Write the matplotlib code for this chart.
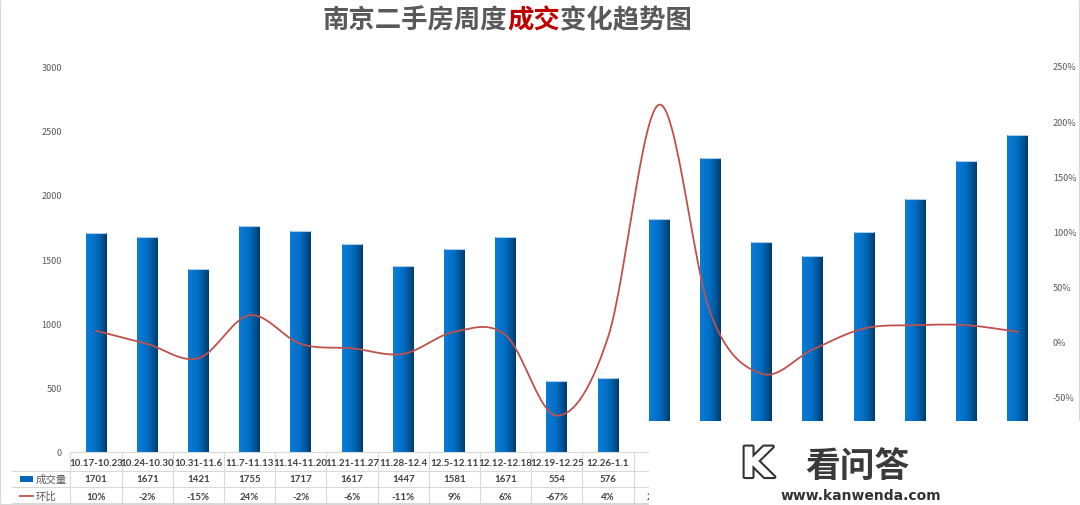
import numpy as np
import matplotlib
matplotlib.use('Agg')
import matplotlib.pyplot as plt
from matplotlib.colors import LinearSegmentedColormap
from matplotlib.offsetbox import TextArea, HPacker, AnnotationBbox
from matplotlib.patches import Rectangle
from matplotlib.lines import Line2D
import matplotlib.patheffects as pe

plt.rcParams['font.family'] = ['Noto Sans CJK SC', 'DejaVu Sans']

# 数据
weeks = ['10.17-10.23', '10.24-10.30', '10.31-11.6', '11.7-11.13', '11.14-11.20',
         '11.21-11.27', '11.28-12.4', '12.5-12.11', '12.12-12.18', '12.19-12.25',
         '12.26-1.1', '1.2-1.8', '1.9-1.15', '1.16-1.22', '1.23-1.29', '1.30-2.5',
         '2.6-2.12', '2.13-2.19', '2.20-2.26']
volume = [1701, 1671, 1421, 1755, 1717, 1617, 1447, 1581, 1671, 554, 576,
          1813, 2285, 1630, 1523, 1712, 1964, 2259, 2466]
ratio = [10, -2, -15, 24, -2, -6, -11, 9, 6, -67, 4,
         215, 26, -29, -7, 12, 15, 15, 9]
left_ticks = [0, 500, 1000, 1500, 2000, 2500, 3000]
right_ticks = [-100, -50, 0, 50, 100, 150, 200, 250]
n_shown = 11  # 表格中未被水印遮住的列数

GRAY = '#595959'
W, H = 1080, 506


def smooth(xs, ys, n=30):
    # 类似 Excel 平滑线: 每段用三次贝塞尔曲线连接
    P = np.column_stack([np.asarray(xs, float), np.asarray(ys, float)])
    out = []
    for i in range(len(P) - 1):
        p0, p1, p2 = P[max(i - 1, 0)], P[i], P[i + 1]
        p3 = P[min(i + 2, len(P) - 1)]
        c1 = p1 + (p2 - p0) / 6
        c2 = p2 - (p3 - p1) / 6
        t = np.linspace(0, 1, n)[:, None]
        seg = (1 - t) ** 3 * p1 + 3 * (1 - t) ** 2 * t * c1 + 3 * (1 - t) * t ** 2 * c2 + t ** 3 * p2
        out.append(seg if i == 0 else seg[1:])
    s = np.vstack(out)
    return s[:, 0], s[:, 1]


fig = plt.figure(figsize=(W / 100, H / 100), dpi=100)
ax = fig.add_axes([70.4 / W, 1 - 453 / H, (1043.2 - 70.4) / W, 386 / H])
x = np.arange(len(volume))

# 柱子 (渐变填充)
bw = 0.41
cmap = LinearSegmentedColormap.from_list(
    'bar', [(0, '#0b7bd5'), (0.45, '#0070c6'), (0.75, '#00569a'), (1, '#003a6c')])
grad = np.linspace(0, 1, 64).reshape(1, -1)
bars = ax.bar(x, volume, width=bw, color='none', zorder=2)
for b in bars:
    im = ax.imshow(grad, cmap=cmap, aspect='auto', interpolation='bicubic', zorder=2,
                   extent=[b.get_x(), b.get_x() + b.get_width(), 0, b.get_height()])
    im.set_clip_path(b)
ax.hlines(volume, x - bw / 2, x + bw / 2, color='#a9cdee', lw=0.8, zorder=3)

ax.set_xlim(-0.5, len(volume) - 0.5)
ax.set_ylim(0, 3000)
ax.set_aspect('auto')
ax.set_xticks([])
ax.set_yticks(left_ticks)
ax.tick_params(axis='y', length=0, labelsize=6.5, labelcolor=GRAY, pad=6)
for s in ax.spines.values():
    s.set_visible(False)

# 环比折线
ax2 = ax.twinx()
sx, sy = smooth(x, ratio)
ax2.plot(sx, sy, color='#c0504d', lw=1.3, zorder=3)
ax2.set_ylim(-100, 250)
ax2.set_yticks(right_ticks)
ax2.set_yticklabels([f'{v}%' for v in right_ticks])
ax2.tick_params(axis='y', length=0, labelsize=6.5, labelcolor=GRAY, pad=7)
for s in ax2.spines.values():
    s.set_visible(False)

# 数据表
T = ax.get_xaxis_transform()


def fy(y):
    return (453 - y) / 386


def px(p):
    return (p - 96) / 51.2


line_c = '#d9d9d9'
ax.add_line(Line2D([-0.5, len(volume) - 0.5], [fy(453)] * 2, transform=T, color=line_c, lw=0.8, clip_on=False))
for yy in (471.5, 488, 504):
    ax.add_line(Line2D([px(12), len(volume) - 0.5], [fy(yy)] * 2, transform=T, color=line_c, lw=0.8, clip_on=False))
for k in range(len(volume) + 1):
    ax.add_line(Line2D([k - 0.5] * 2, [fy(453), fy(504)], transform=T, color=line_c, lw=0.8, clip_on=False))

num_font = ['Lato', 'Noto Sans CJK SC']
for i in x[:n_shown]:
    ax.text(i, fy(463), weeks[i], transform=T, ha='center', va='center', fontsize=7,
            family=num_font, fontweight='bold', color='#404040')
    ax.text(i, fy(480), str(volume[i]), transform=T, ha='center', va='center', fontsize=7,
            family=num_font, fontweight='bold', color='#404040')
for i in x[:n_shown + 1]:
    ax.text(i, fy(497), f'{ratio[i]}%', transform=T, ha='center', va='center', fontsize=7,
            family=num_font, fontweight='bold', color='#404040')

# 图例列
ax.add_patch(Rectangle((px(20), fy(483)), px(33) - px(20), fy(477) - fy(483), transform=T,
                       facecolor='#0068b8', edgecolor='none', clip_on=False))
ax.add_line(Line2D([px(20), px(33)], [fy(497)] * 2, transform=T, color='#c0504d', lw=1.3, clip_on=False))
ax.text(px(36), fy(480), '成交量', transform=T, ha='left', va='center', fontsize=7.5, color=GRAY)
ax.text(px(36), fy(497), '环比', transform=T, ha='left', va='center', fontsize=7.5, color=GRAY)

# 标题
parts = [('南京二手房周度', GRAY), ('成交', '#c00000'), ('变化趋势图', GRAY)]
areas = [TextArea(t, textprops=dict(color=c, fontsize=19, fontweight='bold', family='Noto Sans CJK SC'))
         for t, c in parts]
title_box = HPacker(children=areas, align='baseline', pad=0, sep=0)
fig.add_artist(AnnotationBbox(title_box, (507 / W, 1 - 21 / H), xycoords='figure fraction',
                              frameon=False, box_alignment=(0.5, 0.5)))

# 边框
fig.add_artist(Rectangle((0, 0), 1, 1, transform=fig.transFigure, fill=False,
                         edgecolor='#d9d9d9', lw=1.5, zorder=4))

# 水印遮挡
fig.add_artist(Rectangle((649 / W, 0), 1 - 649 / W, (H - 422) / H, transform=fig.transFigure,
                         facecolor='white', edgecolor='none', zorder=5))
fig.text(757 / W, 1 - 466 / H, 'K', fontsize=30, fontweight='bold', color='white',
         family='DejaVu Sans', ha='center', va='center', zorder=6,
         path_effects=[pe.withStroke(linewidth=3, foreground='#333333')])
fig.text(857 / W, 1 - 466 / H, '看问答', fontsize=25, fontweight='bold', color='#3a3a3a',
         ha='center', va='center', zorder=6)
fig.text(861 / W, 1 - 496 / H, 'www.kanwenda.com', fontsize=10, fontweight='bold', color='#333333',
         family='DejaVu Sans', ha='center', va='center', zorder=6)

fig.savefig('out.png', dpi=100)
